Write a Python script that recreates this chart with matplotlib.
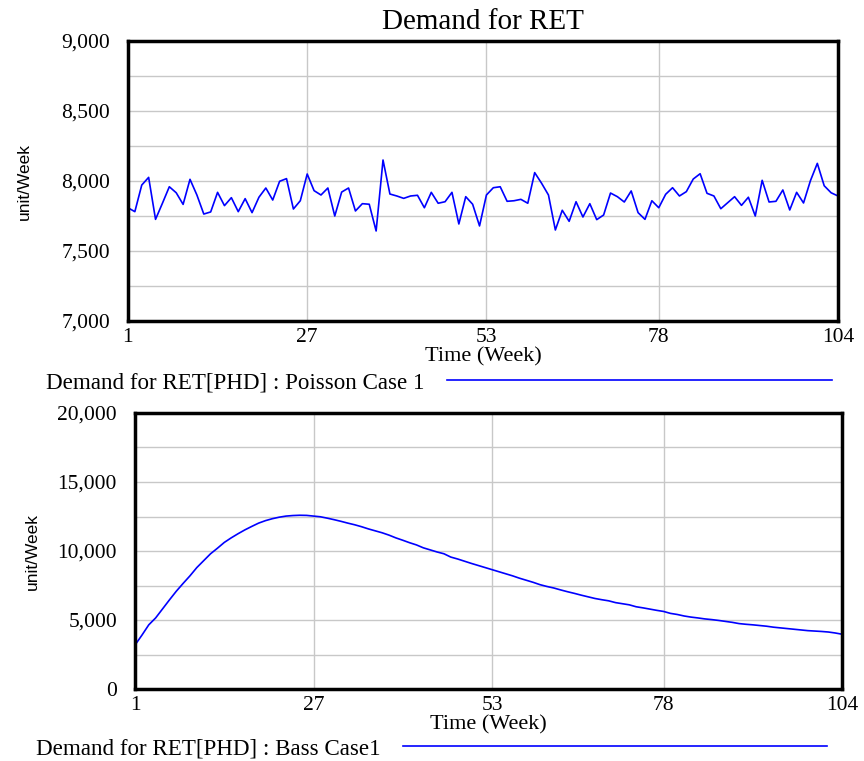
import numpy as np
import matplotlib.pyplot as plt
from matplotlib.ticker import MultipleLocator, FuncFormatter

weeks = np.arange(1, 105)

# Demand for RET[PHD] : Poisson Case 1
poisson = [7809, 7781, 7971, 8026, 7726, 7841, 7959, 7916, 7833, 8012,
           7900, 7764, 7779, 7919, 7824, 7881, 7781, 7874, 7774, 7884,
           7950, 7864, 7998, 8017, 7800, 7859, 8050, 7931, 7900, 7950,
           7750, 7921, 7950, 7786, 7838, 7834, 7643, 8150, 7907, 7893,
           7876, 7893, 7898, 7809, 7919, 7841, 7852, 7919, 7693, 7888,
           7834, 7679, 7900, 7952, 7959, 7855, 7859, 7869, 7841, 8060,
           7984, 7900, 7650, 7791, 7712, 7852, 7743, 7838, 7724, 7757,
           7914, 7888, 7850, 7929, 7774, 7726, 7859, 7809, 7905, 7952,
           7893, 7924, 8014, 8052, 7912, 7893, 7802, 7845, 7888, 7826,
           7884, 7750, 8005, 7850, 7855, 7936, 7793, 7919, 7843, 8002,
           8126, 7966, 7916, 7893]

# Demand for RET[PHD] : Bass Case1
bass = [3190, 3900, 4650, 5150, 5800, 6450, 7080, 7650, 8200, 8800,
        9300, 9800, 10200, 10620, 10950, 11250, 11530, 11780, 12020, 12200,
        12340, 12450, 12530, 12570, 12590, 12580, 12530, 12480, 12380, 12270,
        12150, 12020, 11900, 11760, 11600, 11460, 11320, 11150, 10950, 10780,
        10600, 10440, 10230, 10080, 9930, 9800, 9560, 9420, 9260, 9100,
        8950, 8800, 8650, 8500, 8350, 8200, 8030, 7880, 7730, 7560,
        7430, 7320, 7180, 7050, 6930, 6800, 6680, 6560, 6470, 6390,
        6260, 6180, 6100, 5960, 5880, 5790, 5700, 5620, 5480, 5400,
        5290, 5210, 5150, 5080, 5030, 4970, 4900, 4830, 4740, 4690,
        4650, 4600, 4550, 4480, 4430, 4380, 4330, 4280, 4230, 4200,
        4170, 4130, 4060, 3970]

xticks = [1, 27, 53, 78, 104]

plt.rcParams['font.family'] = ['Liberation Serif', 'DejaVu Serif']
fig = plt.figure(figsize=(8.64, 7.61), dpi=100)

ax1 = fig.add_axes([0.1481, 0.5782, 0.8218, 0.3679])
ax2 = fig.add_axes([0.1563, 0.0946, 0.8183, 0.3627])

comma = FuncFormatter(lambda v, p: f'{v:,.0f}')


def style(ax, ylim, major, minor):
    ax.set_xlim(1, 104)
    ax.set_ylim(*ylim)
    ax.set_xticks(xticks)
    ax.yaxis.set_major_locator(MultipleLocator(major))
    ax.yaxis.set_minor_locator(MultipleLocator(minor))
    ax.yaxis.set_major_formatter(comma)
    ax.grid(True, which='both', axis='y', color='#c8c8c8', lw=1)
    ax.grid(True, axis='x', color='#c8c8c8', lw=1)
    ax.tick_params(which='both', length=0, labelsize=15.5)
    ax.tick_params(axis='y', pad=13)
    ax.tick_params(axis='x', pad=5)
    for s in ax.spines.values():
        s.set_linewidth(2.5)
        s.set_color('black')
    ax.set_axisbelow(True)
    ax.set_xlabel('Time (Week)', fontsize=16, labelpad=0)
    ax.set_ylabel('unit/Week', fontsize=12.5,
                  family=['Liberation Sans Narrow', 'Liberation Sans'])
    ax.yaxis.set_label_coords(-0.135, 0.5)


l1, = ax1.plot(weeks, poisson, color='#0000ff', lw=1.2,
               label='Demand for RET[PHD] : Poisson Case 1')
style(ax1, (7000, 9000), 500, 250)
ax1.set_title('Demand for RET', fontsize=21, pad=9)
ax1.legend(loc='center left', bbox_to_anchor=(0.053, 0.497),
           bbox_transform=fig.transFigure, frameon=False, fontsize=16.6,
           markerfirst=False, handlelength=16.7, handletextpad=1.0,
           borderpad=0, borderaxespad=0)

l2, = ax2.plot(weeks, bass, color='#0000ff', lw=1.2,
               label='Demand for RET[PHD] : Bass Case1')
style(ax2, (0, 20000), 5000, 2500)
ax2.legend(loc='center left', bbox_to_anchor=(0.042, 0.016),
           bbox_transform=fig.transFigure, frameon=False, fontsize=16.6,
           markerfirst=False, handlelength=18.4, handletextpad=0.95,
           borderpad=0, borderaxespad=0)

fig.savefig('out.png', dpi=100)
